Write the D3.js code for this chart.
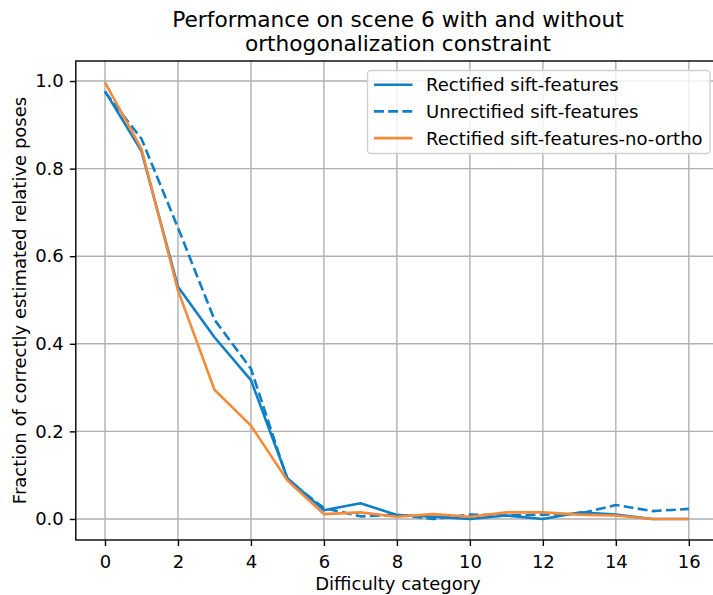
<!DOCTYPE html>
<html><head><meta charset="utf-8">
<script src="https://cdn.jsdelivr.net/npm/d3@7"></script>
<style>body{margin:0;background:#fff}</style>
</head><body><svg id="c" width="713" height="595" style="font-family:'DejaVu Sans',sans-serif"></svg>
<script>
const categories = d3.range(0, 17);
const rectified = [0.977, 0.84, 0.53, 0.415, 0.317, 0.093, 0.02, 0.036, 0.009, 0.005, 0.0, 0.008, 0.0, 0.015, 0.01, 0.0, 0.0];
const unrectified = [0.975, 0.868, 0.665, 0.455, 0.343, 0.09, 0.025, 0.006, 0.01, 0.0, 0.01, 0.008, 0.01, 0.012, 0.032, 0.018, 0.023];
const noOrtho = [0.997, 0.845, 0.522, 0.295, 0.213, 0.088, 0.011, 0.015, 0.005, 0.011, 0.005, 0.015, 0.015, 0.01, 0.008, 0.0, 0.0];
const xTicks = [0, 2, 4, 6, 8, 10, 12, 14, 16];
const yTicks = [0.0, 0.2, 0.4, 0.6, 0.8, 1.0];
const seriesNames = ["Rectified sift-features", "Unrectified sift-features", "Rectified sift-features-no-ortho"];

const FF = "'DejaVu Sans',sans-serif";
const FS = 18;
const svg = d3.select("#c");
const L = 75.8, R = 718, T = 61, B = 540;
const x = d3.scaleLinear().domain([-0.8, 16.8]).range([L, R]);
const y = d3.scaleLinear().domain([-0.048, 1.0457]).range([B, T]);
const grid = "#b0b0b0";

svg.append("g").selectAll("line").data(xTicks).join("line")
  .attr("x1", d => x(d)).attr("x2", d => x(d)).attr("y1", T).attr("y2", B)
  .attr("stroke", grid).attr("stroke-width", 1.4);
svg.append("g").selectAll("line").data(yTicks).join("line")
  .attr("y1", d => y(d)).attr("y2", d => y(d)).attr("x1", L).attr("x2", R)
  .attr("stroke", grid).attr("stroke-width", 1.4);

const xAxis = d3.axisBottom(x).tickValues(xTicks).tickFormat(d3.format("d")).tickSizeOuter(0).tickSize(6).tickPadding(9);
const yAxis = d3.axisLeft(y).tickValues(yTicks).tickFormat(d3.format(".1f")).tickSizeOuter(0).tickSize(6).tickPadding(6);
const gx = svg.append("g").attr("transform", `translate(0,${B})`).call(xAxis);
const gy = svg.append("g").attr("transform", `translate(${L},0)`).call(yAxis);
[gx, gy].forEach(g => {
  g.attr("font-family", FF).attr("font-size", FS);
  g.select(".domain").remove();
  g.selectAll("text").attr("fill", "#000");
  g.selectAll("line").attr("stroke", "#000").attr("stroke-width", 1.4);
});

const line = d3.line().x((d, i) => x(categories[i])).y(d => y(d));
const colors = ["#0f7fc6", "#0f7fc6", "#f68a3b"];
const dashes = [null, "9.9,4.3", null];
[rectified, unrectified, noOrtho].forEach((s, k) => {
  svg.append("path").datum(s).attr("d", line).attr("fill", "none")
    .attr("stroke", colors[k]).attr("stroke-width", 2.6)
    .attr("stroke-dasharray", dashes[k]).attr("stroke-linejoin", "round");
});

svg.append("rect").attr("x", L).attr("y", T).attr("width", R - L).attr("height", B - T)
  .attr("fill", "none").attr("stroke", "#000").attr("stroke-width", 1.4);

const lg = svg.append("g");
lg.append("rect").attr("x", 367.5).attr("y", 70.5).attr("width", 342.5).attr("height", 83).attr("rx", 3.5)
  .attr("fill", "#fff").attr("fill-opacity", 0.8).attr("stroke", "#d0d0d0").attr("stroke-width", 1.4);
seriesNames.forEach((n, k) => {
  const yy = 84.7 + k * 26.7;
  lg.append("line").attr("x1", 374).attr("x2", 412.5).attr("y1", yy).attr("y2", yy)
    .attr("stroke", colors[k]).attr("stroke-width", 2.6).attr("stroke-dasharray", dashes[k]);
  lg.append("text").attr("x", 426).attr("y", yy + 6.4).attr("font-size", FS).attr("font-family", FF).text(n);
});

svg.append("text").attr("x", 398).attr("y", 26.7).attr("text-anchor", "middle").attr("font-size", 21.7).attr("font-family", FF).text("Performance on scene 6 with and without");
svg.append("text").attr("x", 398).attr("y", 50.5).attr("text-anchor", "middle").attr("font-size", 21.7).attr("font-family", FF).text("orthogonalization constraint");
svg.append("text").attr("x", 398).attr("y", 590).attr("text-anchor", "middle").attr("font-size", FS).attr("font-family", FF).text("Difficulty category");
svg.append("text").attr("transform", `translate(25.5,${(T + B) / 2}) rotate(-90)`).attr("text-anchor", "middle").attr("font-size", FS).attr("font-family", FF).text("Fraction of correctly estimated relative poses");
</script></body></html>
